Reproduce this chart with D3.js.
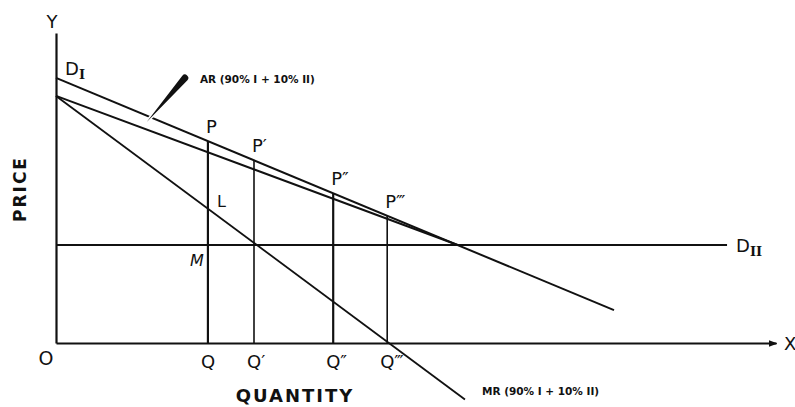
<!DOCTYPE html>
<html>
<head>
<meta charset="utf-8">
<script src="https://cdn.jsdelivr.net/npm/d3@7"></script>
<style>
body { margin: 0; background: #fff; }
text { font-family: "DejaVu Sans", sans-serif; fill: #111; }
.sub { font-family: "DejaVu Serif", serif; font-weight: bold; }
</style>
</head>
<body>
<div id="chart"></div>
<script>
// values, as [quantity, price]
const demandI = [[0, 85.5], [77.5, 10.6]];
const demandII = [[0, 31.6], [93.2, 31.6]];
const averageRevenue = [[0, 79.7], [55.8, 31.6]];
const marginalRevenue = [[0, 79.7], [56.8, -18.2]];
const quantities = [21.1, 27.5, 38.5, 46];
const quantityLabels = ['Q', 'Q′', 'Q″', 'Q‴'];
const priceLabels = ['P', 'P′', 'P″', 'P‴'];
const arPointer = [[12.6, 71.3], [17.9, 85.5]];
const arLabel = 'AR (90% I + 10% II)';
const mrLabel = 'MR (90% I + 10% II)';

const width = 795, height = 407;

var svg = d3.select('#chart')
	.append('svg')
	.attr('width', width)
	.attr('height', height);

var x = d3.scaleLinear().domain([0, 100]).range([56, 776]);
var y = d3.scaleLinear().domain([0, 100]).range([343, 33]);

var line = d3.line()
	.x(d => x(d[0]))
	.y(d => y(d[1]));

function priceAt(pts, q) {
	var t = (q - pts[0][0]) / (pts[1][0] - pts[0][0]);
	return pts[0][1] + t * (pts[1][1] - pts[0][1]);
}

// axes
svg.append('defs').append('marker')
	.attr('id', 'arrow')
	.attr('viewBox', '0 0 10 10')
	.attr('refX', 9).attr('refY', 5)
	.attr('markerWidth', 4).attr('markerHeight', 4)
	.attr('orient', 'auto')
	.append('path')
	.attr('d', 'M0,1 L10,5 L0,9 z')
	.attr('fill', '#111');

var xAxis = svg.append('g')
	.attr('transform', `translate(0,${y(0)})`)
	.call(d3.axisBottom(x).tickValues([]).tickSizeOuter(0));
xAxis.select('.domain')
	.attr('stroke', '#111')
	.attr('stroke-width', 2.2)
	.attr('marker-end', 'url(#arrow)');

var yAxis = svg.append('g')
	.attr('transform', `translate(${x(0)},0)`)
	.call(d3.axisLeft(y).tickValues([]).tickSizeOuter(0));
yAxis.select('.domain')
	.attr('stroke', '#111')
	.attr('stroke-width', 2.2);

// verticals from quantity axis up to D_I
svg.append('g')
	.selectAll('line')
	.data(quantities)
	.enter()
	.append('line')
	.attr('x1', d => x(d))
	.attr('x2', d => x(d))
	.attr('y1', y(0))
	.attr('y2', d => y(priceAt(demandI, d)))
	.attr('stroke', '#111')
	.attr('stroke-width', (d, i) => i % 2 == 0 ? 2.2 : 1.6);

// curves
var curves = [
	{pts: demandII, w: 2},
	{pts: demandI, w: 2},
	{pts: averageRevenue, w: 2},
	{pts: marginalRevenue, w: 1.8}
];
svg.append('g')
	.selectAll('path')
	.data(curves)
	.enter()
	.append('path')
	.attr('d', d => line(d.pts))
	.attr('fill', 'none')
	.attr('stroke', '#111')
	.attr('stroke-width', d => d.w);

// pointer wedge for the AR label
var tip = [x(arPointer[0][0]), y(arPointer[0][1])];
var tail = [x(arPointer[1][0]), y(arPointer[1][1])];
var ang = Math.atan2(tail[1] - tip[1], tail[0] - tip[0]);
var nx = -Math.sin(ang) * 3.4, ny = Math.cos(ang) * 3.4;
svg.append('path')
	.attr('d', `M${tip[0]},${tip[1]} L${tail[0] + nx},${tail[1] + ny} A3.4,3.4 0 0 0 ${tail[0] - nx},${tail[1] - ny} Z`)
	.attr('fill', '#111')
	.attr('stroke', '#fff')
	.attr('stroke-width', 3)
	.attr('paint-order', 'stroke');

// labels
svg.append('g')
	.selectAll('text')
	.data(quantities)
	.enter()
	.append('text')
	.attr('x', d => x(d) - 7)
	.attr('y', y(0) + 25)
	.attr('font-size', 18)
	.text((d, i) => quantityLabels[i]);

svg.append('g')
	.selectAll('text')
	.data(quantities)
	.enter()
	.append('text')
	.attr('x', d => x(d) - 2)
	.attr('y', d => y(priceAt(demandI, d)) - 8)
	.attr('font-size', 18)
	.text((d, i) => priceLabels[i]);

var qL = quantities[0];
svg.append('text')
	.attr('x', x(qL) + 9)
	.attr('y', y(priceAt(marginalRevenue, qL)) - 2)
	.attr('font-size', 16)
	.text('L');
svg.append('text')
	.attr('x', x(qL) - 4)
	.attr('y', y(demandII[0][1]) + 21)
	.attr('text-anchor', 'end')
	.attr('font-size', 16)
	.attr('font-style', 'italic')
	.text('M');

var dI = svg.append('text')
	.attr('x', x(0) + 9)
	.attr('y', y(demandI[0][1]) - 3)
	.attr('font-size', 18)
	.text('D');
dI.append('tspan').attr('class', 'sub').attr('font-size', 13).attr('dy', 4).text('I');

var dII = svg.append('text')
	.attr('x', x(demandII[1][0]) + 9)
	.attr('y', y(demandII[1][1]) + 7)
	.attr('font-size', 18)
	.text('D');
dII.append('tspan').attr('class', 'sub').attr('font-size', 13).attr('dy', 4).text('II');

svg.append('text')
	.attr('x', tail[0] + 15)
	.attr('y', tail[1] + 5)
	.attr('font-size', 10.5)
	.attr('font-weight', 'bold')
	.text(arLabel);

var mrEnd = marginalRevenue[1];
svg.append('text')
	.attr('x', x(mrEnd[0]) + 17)
	.attr('y', y(mrEnd[1]) - 4)
	.attr('font-size', 10.5)
	.attr('font-weight', 'bold')
	.text(mrLabel);

svg.append('text')
	.attr('x', x(100) + 8)
	.attr('y', y(0) + 7)
	.attr('font-size', 18)
	.text('X');
svg.append('text')
	.attr('x', x(0) - 4)
	.attr('y', y(100) - 5)
	.attr('text-anchor', 'middle')
	.attr('font-size', 18)
	.text('Y');
svg.append('text')
	.attr('x', x(0) - 10)
	.attr('y', y(0) + 22)
	.attr('text-anchor', 'middle')
	.attr('font-size', 19)
	.text('O');

svg.append('text')
	.attr('x', 295)
	.attr('y', 402)
	.attr('text-anchor', 'middle')
	.attr('font-size', 18)
	.attr('font-weight', 'bold')
	.attr('letter-spacing', 2)
	.text('QUANTITY');

svg.append('text')
	.attr('transform', 'translate(26,189) rotate(-90)')
	.attr('text-anchor', 'middle')
	.attr('font-size', 17)
	.attr('font-weight', 'bold')
	.attr('letter-spacing', 2)
	.text('PRICE');
</script>
</body>
</html>
